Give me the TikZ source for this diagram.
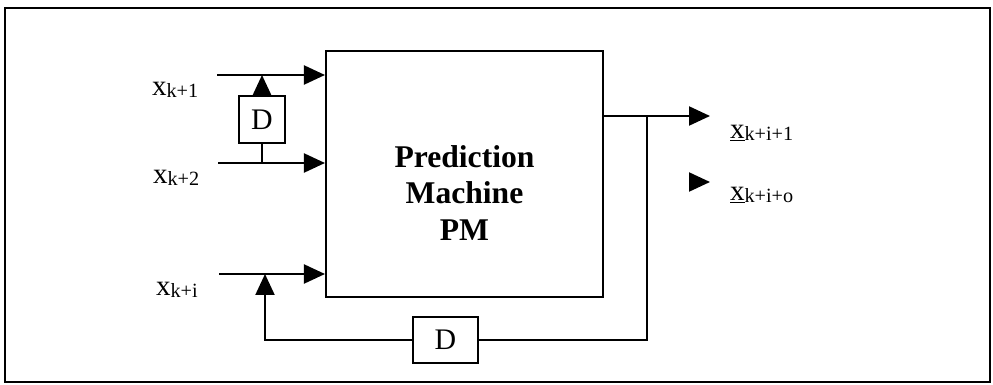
\documentclass[tikz,border=0pt]{standalone}
\usepackage{fontspec}
\setmainfont{Liberation Serif}
\usepackage{tikz}
\usetikzlibrary{positioning,arrows.meta}
\tikzset{every picture/.style={line width=1.2pt}}
\newcommand{\xsub}[2]{#1\raisebox{-0.04cm}{\fontsize{11.5pt}{12pt}\selectfont #2}}

\begin{document}
\begin{tikzpicture}[x=0.02cm,y=-0.02cm,
  flow/.style={-{Triangle[length=0.42cm,width=0.38cm]}},
  box/.style={draw,inner sep=0pt},
  lab/.style={anchor=base west,inner sep=0pt,font=\fontsize{16.5pt}{18pt}\selectfont}]
\useasboundingbox (0,0) rectangle (993,385);
\draw (5,8) rectangle (990,382);
% prediction machine
\node[box,minimum width=5.54cm,minimum height=4.92cm] (PM) at (464.5,174) {};
\node[align=center,font=\bfseries\fontsize{18pt}{21pt}\selectfont] (PMtext) at ([yshift=-0.38cm]PM.center) {Prediction\\Machine\\PM};
% inputs
\coordinate (in1) at (217,75);
\coordinate (in2) at (218,163);
\coordinate (in3) at (219,274);
\node[lab] (l1) at (151,95) {\xsub{x}{k+1}};
\node[lab] (l2) at (152,183) {\xsub{x}{k+2}};
\node[lab] (l3) at (155,295) {\xsub{x}{k+i}};
\draw[flow] (in1) -- (PM.west |- in1);
\draw[flow] (in2) -- (PM.west |- in2);
\draw[flow] (in3) -- (PM.west |- in3);
% delay between inputs
\node[box,minimum width=0.92cm,minimum height=0.94cm,font=\fontsize{17pt}{18pt}\selectfont] (D1) at (262,119.5) {D};
\draw[flow] (D1.north) -- (D1 |- in1);
\draw (D1.south) -- (D1 |- in2);
% outputs
\coordinate (out1) at (710,116);
\coordinate (br) at (647,116);
\coordinate (o2a) at (689,182);
\coordinate (o2b) at (710,182);
\draw[flow] (PM.east |- out1) -- (out1);
\draw[flow] (o2a) -- (o2b);
\node[lab] (r1) at (729,138) {\xsub{\underline{x}}{k+i+1}};
\node[lab] (r2) at (729,200) {\xsub{\underline{x}}{k+i+o}};
% feedback
\node[box,minimum width=1.3cm,minimum height=0.92cm,font=\fontsize{17pt}{18pt}\selectfont] (D2) at (445.5,340) {D};
\coordinate (fb) at (265,340);
\draw (br) |- (D2.east);
\draw[flow] (D2.west) -- (fb) -- (fb |- in3);
\end{tikzpicture}
\end{document}
